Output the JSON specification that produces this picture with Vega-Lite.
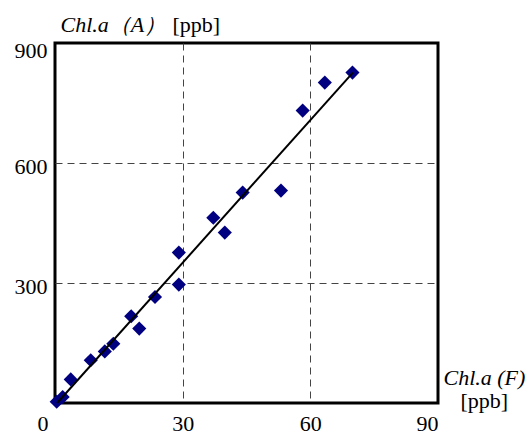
{
  "$schema": "https://vega.github.io/schema/vega-lite/v6.json",
  "width": 383,
  "height": 360,
  "autosize": {"type": "none"},
  "padding": {"left": 55, "top": 43, "right": 94, "bottom": 31},
  "background": "white",
  "config": {
    "font": "Liberation Serif",
    "view": {"stroke": "black", "strokeWidth": 3},
    "axis": {
      "labelFont": "Liberation Serif",
      "titleFont": "Liberation Serif",
      "labelFontSize": 22,
      "titleFontSize": 22,
      "labelColor": "black",
      "titleColor": "black",
      "titleFontWeight": "normal",
      "domain": false,
      "ticks": false,
      "tickSize": 0,
      "gridColor": "#444444",
      "gridDash": [7, 5],
      "gridWidth": 1
    }
  },
  "datasets": {
    "pts": [
      {"F": 0.4, "A": 3},
      {"F": 1.8, "A": 15},
      {"F": 3.7, "A": 59},
      {"F": 8.4, "A": 107},
      {"F": 11.7, "A": 129},
      {"F": 13.7, "A": 148},
      {"F": 17.9, "A": 217},
      {"F": 19.8, "A": 186},
      {"F": 23.5, "A": 265},
      {"F": 29.1, "A": 376},
      {"F": 29.1, "A": 296},
      {"F": 37.2, "A": 463},
      {"F": 39.9, "A": 426},
      {"F": 44.1, "A": 526},
      {"F": 53.1, "A": 531},
      {"F": 58.2, "A": 731},
      {"F": 63.4, "A": 801},
      {"F": 69.9, "A": 826}
    ],
    "fit": [
      {"F": 0.5, "A": 0},
      {"F": 70, "A": 826}
    ]
  },
  "layer": [
    {
      "data": {"name": "pts"},
      "mark": {"type": "point", "shape": "diamond", "filled": true, "size": 200, "color": "#000080", "opacity": 1},
      "encoding": {
        "x": {
          "field": "F", "type": "quantitative",
          "scale": {"domain": [0, 90], "nice": false, "zero": false},
          "axis": {
            "orient": "bottom",
            "values": [0, 30, 60, 90],
            "labelFont": "Liberation Serif",
            "titleFont": "Liberation Serif",
            "labelPadding": 10,
            "labelOffset": {"condition": {"test": "datum.value === 0", "value": -18}, "value": 0},
            "gridOpacity": {"condition": {"test": "datum.value === 0 || datum.value === 90", "value": 0}, "value": 1},
            "title": "Chl.a (F)",
            "titleFontStyle": "italic",
            "titleAngle": 0,
            "titleAlign": "left",
            "titleBaseline": "alphabetic",
            "titleX": 388,
            "titleY": -19
          }
        },
        "y": {
          "field": "A", "type": "quantitative",
          "scale": {"domain": [0, 900], "nice": false, "zero": false},
          "axis": {
            "orient": "left",
            "values": [300, 600, 900],
            "labelFont": "Liberation Serif",
            "titleFont": "Liberation Serif",
            "labelPadding": 8,
            "labelBaseline": "middle",
            "labelOffset": {"condition": {"test": "datum.value === 900", "value": 7}, "value": 3},
            "gridOpacity": {"condition": {"test": "datum.value === 900", "value": 0}, "value": 1},
            "title": "Chl.a（A）",
            "titleFontStyle": "italic",
            "titleAngle": 0,
            "titleAlign": "left",
            "titleBaseline": "alphabetic",
            "titleX": 5,
            "titleY": -12
          }
        }
      }
    },
    {
      "data": {"name": "fit"},
      "mark": {"type": "line", "color": "black", "strokeWidth": 2},
      "encoding": {
        "x": {
          "field": "F", "type": "quantitative",
          "scale": {"domain": [0, 90], "nice": false, "zero": false},
          "axis": {
            "orient": "top",
            "labels": false,
            "grid": false,
            "titleFont": "Liberation Serif",
            "title": "[ppb]",
            "titleAngle": 0,
            "titleAlign": "left",
            "titleBaseline": "alphabetic",
            "titleX": 117,
            "titleY": -12
          }
        },
        "y": {
          "field": "A", "type": "quantitative",
          "scale": {"domain": [0, 900], "nice": false, "zero": false},
          "axis": {
            "orient": "right",
            "labels": false,
            "grid": false,
            "titleFont": "Liberation Serif",
            "title": "[ppb]",
            "titleAngle": 0,
            "titleAlign": "left",
            "titleBaseline": "alphabetic",
            "titleX": 22,
            "titleY": 364
          }
        }
      }
    }
  ],
  "resolve": {"axis": {"x": "independent", "y": "independent"}}
}
